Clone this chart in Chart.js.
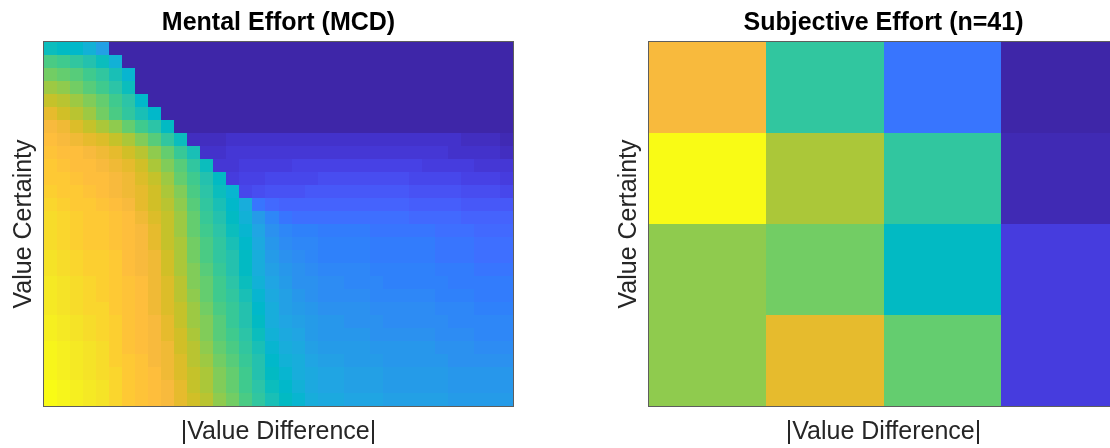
<!DOCTYPE html>
<html>
<head>
<meta charset="utf-8">
<script src="https://cdn.jsdelivr.net/npm/chart.js@4.4.1/dist/chart.umd.min.js"></script>
<style>
  html, body { margin: 0; padding: 0; background: #fff; overflow: hidden; }
  body { width: 1110px; height: 448px; position: relative; }
  canvas { position: absolute; top: 0; }
  #mcdChart { left: 0; }
  #subjChart { left: 605px; }
</style>
</head>
<body>
<canvas id="mcdChart" width="555" height="448" style="width:555px;height:448px"></canvas>
<canvas id="subjChart" width="555" height="448" style="width:555px;height:448px"></canvas>
<script>
// Rows go from high value certainty (top) to low (bottom), columns from small to large |value difference|.
const mcdEffort = [
  [31,30,29,27,23,0,0,0,0,0,0,0,0,0,0,0,0,0,0,0,0,0,0,0,0,0,0,0,0,0,0,0,0,0,0,0],
  [38,37,35,33,31,27,0,0,0,0,0,0,0,0,0,0,0,0,0,0,0,0,0,0,0,0,0,0,0,0,0,0,0,0,0,0],
  [41,40,39,37,35,32,28,0,0,0,0,0,0,0,0,0,0,0,0,0,0,0,0,0,0,0,0,0,0,0,0,0,0,0,0,0],
  [44,43,41,39,37,34,31,0,0,0,0,0,0,0,0,0,0,0,0,0,0,0,0,0,0,0,0,0,0,0,0,0,0,0,0,0],
  [47,46,44,42,40,37,34,29,0,0,0,0,0,0,0,0,0,0,0,0,0,0,0,0,0,0,0,0,0,0,0,0,0,0,0,0],
  [50,48,46,44,41,38,35,32,29,0,0,0,0,0,0,0,0,0,0,0,0,0,0,0,0,0,0,0,0,0,0,0,0,0,0,0],
  [52,51,49,47,45,43,40,37,34,30,0,0,0,0,0,0,0,0,0,0,0,0,0,0,0,0,0,0,0,0,0,0,0,0,0,0],
  [53,52,51,50,49,47,45,42,39,35,31,2,2,2,3,3,3,3,3,3,3,3,3,3,3,3,3,3,3,3,3,3,2,2,2,1],
  [54,53,53,52,51,50,48,46,43,40,36,32,3,3,4,4,4,4,4,4,4,4,4,4,4,4,4,4,4,4,4,3,3,3,3,2],
  [55,54,53,53,52,51,50,48,45,42,39,35,31,4,4,5,5,5,5,6,6,6,6,6,6,6,6,6,6,5,5,5,5,4,4,4],
  [55,55,54,53,53,52,51,49,47,44,40,37,33,30,5,6,6,7,7,7,7,8,8,8,8,8,8,8,7,7,7,7,6,6,6,5],
  [56,55,55,54,53,52,51,50,48,45,42,38,34,31,28,7,8,9,9,9,10,10,10,10,10,10,10,10,9,9,9,9,8,8,8,7],
  [57,56,55,55,54,53,52,50,48,46,43,39,35,32,29,26,15,13,12,12,12,12,12,12,12,12,12,12,11,11,11,11,10,10,10,10],
  [58,57,56,55,55,54,53,51,49,47,44,40,36,33,30,27,22,18,15,14,14,14,14,14,14,14,14,14,13,13,13,13,12,12,12,12],
  [58,57,56,55,55,54,53,52,50,47,44,40,37,34,31,28,24,20,18,17,17,16,16,16,16,15,15,15,15,15,14,14,14,13,13,13],
  [58,57,56,55,55,54,53,52,50,47,45,41,38,35,32,29,25,21,19,18,18,17,17,17,17,16,16,16,16,16,15,15,15,14,14,14],
  [59,58,57,56,56,55,53,52,51,48,45,41,38,35,33,30,26,22,20,19,18,17,17,17,17,16,16,16,16,16,15,15,15,14,14,14],
  [59,58,57,56,56,55,53,52,51,48,45,42,39,36,33,30,26,23,21,20,19,18,18,18,18,17,17,17,17,17,16,16,16,15,15,15],
  [60,59,58,57,56,55,54,53,51,49,46,42,40,37,34,31,27,24,22,20,20,19,19,18,18,18,17,17,17,17,17,16,16,16,16,16],
  [60,59,58,57,56,55,54,53,51,49,46,43,40,37,35,32,28,25,23,21,20,19,19,19,19,18,18,18,18,18,17,17,17,16,16,16],
  [60,59,58,57,57,55,54,53,51,49,47,44,41,38,36,33,29,26,23,22,21,20,20,20,20,19,19,19,19,19,18,18,18,17,17,17],
  [61,60,59,58,57,56,54,53,52,50,47,44,42,39,36,33,30,26,24,23,22,21,21,20,20,20,19,19,19,19,19,18,18,18,18,18],
  [61,60,59,58,57,56,54,53,52,50,48,45,42,39,37,34,31,27,25,24,22,21,21,21,21,20,20,20,20,20,19,19,19,18,18,18],
  [62,61,60,59,58,56,54,53,52,51,48,46,43,40,38,35,32,28,26,25,23,22,22,22,22,21,21,21,21,21,20,20,20,19,19,19],
  [62,61,60,59,58,56,55,54,52,51,49,46,44,41,39,36,33,29,27,26,24,23,23,22,22,22,21,21,21,21,21,20,20,20,20,20],
  [62,61,60,59,58,57,55,54,53,51,49,47,45,42,40,37,33,30,28,26,25,24,24,23,23,23,22,22,22,22,22,21,21,21,21,21],
  [63,62,61,60,59,57,55,54,53,52,50,47,45,42,40,37,34,31,29,27,25,24,24,23,23,23,22,22,22,22,22,21,21,21,21,21],
  [63,62,61,60,59,57,55,54,53,52,50,48,46,43,41,38,35,32,30,28,26,25,25,24,24,24,23,23,23,23,23,22,22,22,22,22]
];

// Subjective effort ratings (n=41), 4 certainty bins x 4 difference bins, same colour index scale
const subjectiveEffort = [
  [52, 35, 15, 0],
  [63, 45, 35, 1],
  [43, 41, 30, 5],
  [43, 50, 40, 5]
];

const chartTitles = ['Mental Effort (MCD)', 'Subjective Effort (n=41)'];
const xAxisTitle = '|Value Difference|';
const yAxisTitle = 'Value Certainty';

// MATLAB parula, 64 steps
const parula = [
  [0.2422,0.1504,0.6603],[0.2504,0.1650,0.7076],[0.2578,0.1818,0.7511],[0.2647,0.1978,0.7952],
  [0.2706,0.2147,0.8364],[0.2751,0.2342,0.8710],[0.2783,0.2559,0.8991],[0.2803,0.2782,0.9221],
  [0.2813,0.3006,0.9414],[0.2810,0.3228,0.9579],[0.2795,0.3447,0.9717],[0.2760,0.3667,0.9829],
  [0.2699,0.3892,0.9906],[0.2602,0.4123,0.9952],[0.2440,0.4358,0.9988],[0.2206,0.4603,0.9973],
  [0.1963,0.4847,0.9892],[0.1834,0.5074,0.9798],[0.1786,0.5289,0.9682],[0.1764,0.5499,0.9520],
  [0.1687,0.5703,0.9359],[0.1540,0.5902,0.9218],[0.1460,0.6091,0.9079],[0.1380,0.6276,0.8973],
  [0.1248,0.6459,0.8883],[0.1113,0.6635,0.8763],[0.0952,0.6798,0.8598],[0.0689,0.6948,0.8394],
  [0.0297,0.7082,0.8163],[0.0036,0.7203,0.7917],[0.0067,0.7312,0.7660],[0.0433,0.7411,0.7394],
  [0.0964,0.7500,0.7120],[0.1408,0.7584,0.6842],[0.1717,0.7670,0.6554],[0.1938,0.7758,0.6251],
  [0.2161,0.7843,0.5923],[0.2470,0.7918,0.5567],[0.2906,0.7973,0.5188],[0.3406,0.8008,0.4789],
  [0.3909,0.8029,0.4354],[0.4456,0.8024,0.3909],[0.5044,0.7993,0.3480],[0.5616,0.7942,0.3045],
  [0.6174,0.7876,0.2612],[0.6720,0.7793,0.2227],[0.7242,0.7698,0.1910],[0.7738,0.7598,0.1646],
  [0.8203,0.7498,0.1535],[0.8634,0.7406,0.1596],[0.9035,0.7330,0.1774],[0.9393,0.7288,0.2100],
  [0.9728,0.7298,0.2394],[0.9956,0.7434,0.2371],[0.9970,0.7659,0.2199],[0.9952,0.7893,0.2028],
  [0.9892,0.8136,0.1885],[0.9786,0.8386,0.1766],[0.9676,0.8639,0.1643],[0.9610,0.8890,0.1537],
  [0.9597,0.9135,0.1423],[0.9628,0.9373,0.1265],[0.9691,0.9606,0.1064],[0.9769,0.9839,0.0805]
];

function parulaColor(v) {
  const i = Math.max(0, Math.min(63, Math.round(v)));
  const c = parula[i];
  return `rgb(${Math.round(c[0]*255)},${Math.round(c[1]*255)},${Math.round(c[2]*255)})`;
}

function toCells(grid) {
  let cells = [];
  grid.forEach((row, r) => {
    row.forEach((v, c) => {
      cells.push({x: c, y: r, v: v});
    });
  });
  return cells;
}

// draws each cell as a rectangle through the chart's scales, then the axes box
const heatmapPlugin = {
  id: 'heatmap',
  beforeDatasetsDraw(chart) {
    const {ctx, chartArea, scales: {x, y}} = chart;
    ctx.save();
    chart.data.datasets[0].data.forEach(cell => {
      const x0 = Math.round(x.getPixelForValue(cell.x));
      const x1 = Math.round(x.getPixelForValue(cell.x + 1));
      const y0 = Math.round(y.getPixelForValue(cell.y));
      const y1 = Math.round(y.getPixelForValue(cell.y + 1));
      ctx.fillStyle = parulaColor(cell.v);
      ctx.fillRect(Math.min(x0, x1), Math.min(y0, y1), Math.abs(x1 - x0), Math.abs(y1 - y0));
    });
    ctx.strokeStyle = '#5e5e5e';
    ctx.lineWidth = 1;
    const l = Math.round(chartArea.left), t = Math.round(chartArea.top);
    const w = Math.round(chartArea.right) - l, h = Math.round(chartArea.bottom) - t;
    ctx.strokeRect(l - 0.5, t - 0.5, w + 1, h + 1);
    ctx.restore();
  }
};

const fontFamily = "'Liberation Sans', Arial, Helvetica, sans-serif";

function makeHeatmap(canvasId, grid, title) {
  const nRows = grid.length;
  const nCols = grid[0].length;
  const ctx = document.getElementById(canvasId).getContext('2d');
  return new Chart(ctx, {
    type: 'scatter',
    data: {
      datasets: [{
        data: toCells(grid),
        pointRadius: 0,
        pointHoverRadius: 0
      }]
    },
    plugins: [heatmapPlugin],
    options: {
      responsive: false,
      animation: false,
      devicePixelRatio: 1,
      events: [],
      layout: { padding: { left: 0, right: 42, top: 0, bottom: 0 } },
      scales: {
        x: {
          type: 'linear',
          min: 0,
          max: nCols,
          ticks: { display: false },
          grid: { display: false },
          border: { display: false },
          title: {
            display: true,
            text: xAxisTitle,
            color: '#262626',
            font: { family: fontFamily, size: 25 },
            padding: { top: 0, bottom: 1 }
          },
          afterFit: (scale) => { scale.height = 42; }
        },
        y: {
          type: 'linear',
          min: 0,
          max: nRows,
          reverse: true,
          ticks: { display: false },
          grid: { display: false },
          border: { display: false },
          title: {
            display: true,
            text: yAxisTitle,
            color: '#262626',
            font: { family: fontFamily, size: 25 },
            padding: { top: 9, bottom: 0 }
          },
          afterFit: (scale) => { scale.width = 44; }
        }
      },
      plugins: {
        legend: { display: false },
        tooltip: { enabled: false },
        title: {
          display: true,
          fullSize: false,
          text: title,
          color: '#000',
          font: { family: fontFamily, size: 25, weight: 'bold' },
          padding: { top: 8, bottom: 4 }
        }
      }
    }
  });
}

makeHeatmap('mcdChart', mcdEffort, chartTitles[0]);
makeHeatmap('subjChart', subjectiveEffort, chartTitles[1]);
</script>
</body>
</html>
